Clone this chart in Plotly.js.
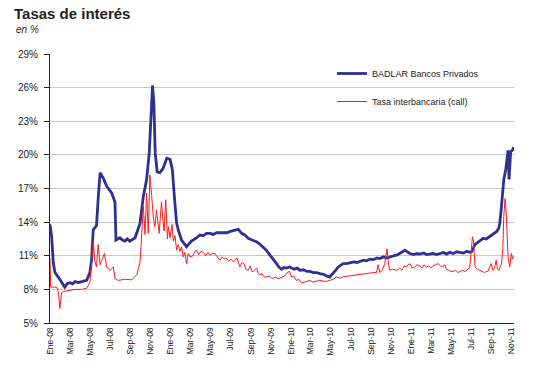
<!DOCTYPE html>
<html>
<head>
<meta charset="utf-8">
<script src="https://cdn.plot.ly/plotly-3.0.1.min.js"></script>
<style>html,body{margin:0;padding:0;background:#fff;}#chart{width:533px;height:384px;}</style>
</head>
<body>
<div id="chart"></div>
<script>
// BADLAR Bancos Privados (%)
var badlarDates = [
"2008-01-01","2008-01-03","2008-01-06","2008-01-11","2008-01-16","2008-01-26","2008-02-05","2008-02-15","2008-02-22","2008-03-02","2008-03-10","2008-03-17","2008-03-27","2008-04-06","2008-04-14","2008-04-21","2008-05-01","2008-05-06","2008-05-11","2008-05-21","2008-05-27","2008-06-01","2008-06-11","2008-06-21","2008-07-06","2008-07-16","2008-07-19","2008-07-31","2008-08-08","2008-08-15","2008-08-22","2008-08-30","2008-09-15","2008-09-30","2008-10-10","2008-10-20","2008-10-28","2008-11-04","2008-11-07","2008-11-11","2008-11-15","2008-11-21","2008-11-29","2008-12-09","2008-12-20","2008-12-30",
"2009-01-06","2009-01-12","2009-01-19","2009-01-24","2009-02-03","2009-02-18","2009-03-05","2009-03-20","2009-03-31","2009-04-10","2009-04-20","2009-04-30","2009-05-10","2009-05-20","2009-05-30","2009-06-10","2009-06-20","2009-06-29","2009-07-10","2009-07-18","2009-07-25","2009-08-04","2009-08-14","2009-08-24","2009-09-05","2009-09-18","2009-09-28","2009-10-08","2009-10-18","2009-10-29","2009-11-08","2009-11-18","2009-11-25","2009-12-03","2009-12-10","2009-12-18","2009-12-28",
"2010-01-10","2010-01-20","2010-01-28","2010-02-08","2010-02-18","2010-02-27","2010-03-10","2010-03-20","2010-03-29","2010-04-10","2010-04-18","2010-04-28","2010-05-08","2010-05-16","2010-05-24","2010-06-01","2010-06-08","2010-06-18","2010-06-28","2010-07-10","2010-07-20","2010-07-28","2010-08-08","2010-08-18","2010-08-28","2010-09-08","2010-09-18","2010-09-27","2010-10-08","2010-10-18","2010-10-27","2010-11-08","2010-11-17","2010-11-28","2010-12-05","2010-12-12","2010-12-20","2010-12-27",
"2011-01-08","2011-01-18","2011-01-26","2011-02-08","2011-02-16","2011-02-26","2011-03-08","2011-03-18","2011-03-28","2011-04-08","2011-04-18","2011-04-27","2011-05-08","2011-05-18","2011-05-27","2011-06-08","2011-06-18","2011-06-26","2011-07-02","2011-07-07","2011-07-12","2011-07-22","2011-07-30","2011-08-06","2011-08-16","2011-08-26","2011-09-06","2011-09-16","2011-09-22","2011-09-26","2011-10-01","2011-10-08","2011-10-14","2011-10-18","2011-10-21","2011-10-24","2011-10-29","2011-11-03","2011-11-07"];
var badlar = [
13.8,13.4,12.7,10.4,9.5,9.1,8.6,8.2,8.5,8.6,8.5,8.7,8.6,8.7,8.8,8.8,9.5,10.6,13.3,13.7,16.5,18.4,17.9,17.2,16.6,15.8,12.4,12.6,12.4,12.3,12.5,12.3,12.6,13.9,16.3,17.8,20.2,24.6,26.2,24.6,20.2,18.5,18.4,18.8,19.7,19.6,
18.7,16.3,13.9,13.3,12.4,11.8,12.3,12.6,12.85,12.8,13.0,13.0,12.9,13.05,13.05,13.1,13.05,13.15,13.2,13.3,13.35,13.0,12.85,12.55,12.4,12.25,12.05,11.8,11.5,11.05,10.7,10.3,10.0,9.8,9.95,9.9,10.0,
9.8,9.9,9.7,9.75,9.6,9.6,9.5,9.5,9.4,9.35,9.2,9.1,9.4,9.7,10.0,10.2,10.3,10.3,10.4,10.45,10.4,10.5,10.6,10.55,10.7,10.65,10.8,10.75,10.9,10.8,10.9,11.0,11.05,11.2,11.35,11.5,11.3,11.2,
11.1,11.2,11.15,11.25,11.1,11.15,11.2,11.1,11.2,11.3,11.15,11.3,11.2,11.35,11.3,11.25,11.4,11.3,11.35,11.6,12.0,12.2,12.4,12.55,12.5,12.7,12.9,13.15,13.4,13.9,15.4,17.8,18.7,19.8,20.4,17.8,20.3,20.4,20.7];

// Tasa interbancaria (call) (%)
var callDates = [
"2008-01-01","2008-01-03","2008-01-21","2008-01-26","2008-01-31","2008-02-05","2008-02-10","2008-02-25","2008-03-17","2008-04-06","2008-04-21","2008-05-01","2008-05-06","2008-05-11","2008-05-16","2008-05-21","2008-05-26","2008-06-01","2008-06-06","2008-06-14","2008-06-21","2008-07-01","2008-07-11","2008-07-16","2008-07-26","2008-08-15","2008-09-05","2008-09-20","2008-09-30","2008-10-05","2008-10-10","2008-10-15","2008-10-20","2008-10-25","2008-10-30","2008-11-04","2008-11-09","2008-11-14","2008-11-19","2008-11-27","2008-12-04","2008-12-09","2008-12-12","2008-12-17","2008-12-22","2008-12-25","2008-12-30",
"2009-01-05","2009-01-09","2009-01-14","2009-01-19","2009-01-24","2009-01-29","2009-02-03","2009-02-08","2009-02-13","2009-02-18","2009-02-23","2009-02-28","2009-03-10","2009-03-15","2009-03-20","2009-03-27","2009-04-03","2009-04-10","2009-04-17","2009-04-24","2009-04-30","2009-05-07","2009-05-15","2009-05-22","2009-05-30","2009-06-06","2009-06-12","2009-06-19","2009-06-26","2009-07-03","2009-07-10","2009-07-16","2009-07-21","2009-07-26","2009-07-30","2009-08-05","2009-08-11","2009-08-17","2009-08-24","2009-08-30","2009-09-04","2009-09-08","2009-09-14","2009-09-19","2009-09-24","2009-09-28","2009-10-05","2009-10-12","2009-10-19","2009-10-26","2009-11-02","2009-11-08","2009-11-16","2009-11-22","2009-11-28","2009-12-06","2009-12-13","2009-12-20","2009-12-28",
"2010-01-02","2010-01-09","2010-01-17","2010-01-25","2010-02-01","2010-02-07","2010-02-15","2010-02-22","2010-02-27","2010-03-08","2010-03-19","2010-03-28","2010-04-07","2010-04-16","2010-04-28","2010-05-08","2010-05-19","2010-05-30","2010-06-10","2010-06-18","2010-06-28","2010-07-08","2010-07-18","2010-07-28","2010-08-08","2010-08-18","2010-08-28","2010-09-08","2010-09-17","2010-09-22","2010-09-27","2010-10-05","2010-10-12","2010-10-19","2010-10-24","2010-10-27","2010-11-05","2010-11-17","2010-11-26","2010-12-03","2010-12-10","2010-12-17","2010-12-22","2010-12-27",
"2011-01-04","2011-01-11","2011-01-18","2011-01-26","2011-02-03","2011-02-08","2011-02-15","2011-02-22","2011-03-01","2011-03-07","2011-03-15","2011-03-23","2011-03-30","2011-04-06","2011-04-12","2011-04-17","2011-04-25","2011-05-01","2011-05-07","2011-05-15","2011-05-22","2011-05-27","2011-06-05","2011-06-12","2011-06-17","2011-06-22","2011-06-27","2011-07-05","2011-07-08","2011-07-13","2011-07-20","2011-07-27","2011-08-04","2011-08-11","2011-08-16","2011-08-21","2011-08-26","2011-08-31","2011-09-05","2011-09-10","2011-09-15","2011-09-19","2011-09-23","2011-09-27","2011-10-01","2011-10-05","2011-10-08","2011-10-12","2011-10-16","2011-10-21","2011-10-26","2011-10-31","2011-11-03","2011-11-05","2011-11-07"];
var call = [
10.8,8.2,8.2,7.8,6.3,7.7,7.8,7.9,8.0,8.0,8.1,8.6,10.4,12.3,10.5,10.0,12.0,10.2,10.6,11.2,10.0,9.7,10.0,9.0,8.8,8.9,8.85,9.3,10.4,12.7,15.4,12.9,16.6,13.0,18.2,16.5,14.5,13.6,15.1,13.0,15.8,14.0,13.2,16.0,12.5,13.6,12.6,
13.8,12.3,12.8,11.5,12.0,11.4,11.8,10.9,11.3,10.3,11.2,10.9,11.0,11.4,11.5,11.1,11.4,11.3,11.0,11.3,11.05,11.2,11.2,10.9,10.6,10.9,10.7,10.8,10.5,10.7,10.45,10.6,10.8,10.3,10.0,10.4,10.3,9.8,9.7,10.1,9.6,9.6,9.8,9.9,9.4,9.3,9.4,9.1,9.1,9.2,9.0,9.0,9.1,8.95,9.0,9.1,9.2,9.5,9.6,
9.1,9.2,8.8,8.9,8.6,8.6,8.7,8.8,8.8,8.65,8.7,8.8,8.75,8.7,8.8,8.9,9.1,9.0,9.15,9.15,9.2,9.25,9.3,9.3,9.4,9.4,9.45,9.5,9.5,10.2,9.5,9.7,10.3,11.6,10.2,9.7,9.8,9.7,9.9,9.7,10.1,10.0,10.2,10.3,
9.9,10.0,10.2,10.1,9.9,10.2,10.0,10.1,9.9,10.1,10.2,10.3,10.1,10.0,10.2,9.8,9.7,9.6,9.6,9.7,9.5,9.6,9.7,9.6,9.7,9.8,10.0,12.7,12.3,10.0,9.8,9.7,9.6,9.5,9.6,9.6,10.0,10.3,9.7,9.9,10.6,9.8,9.7,10.0,10.3,11.5,14.5,16.1,14.5,10.9,10.0,11.2,10.7,10.9,11.0];

var tickDates = ["2008-01-01","2008-03-01","2008-05-01","2008-07-01","2008-09-01","2008-11-01","2009-01-01","2009-03-01","2009-05-01","2009-07-01","2009-09-01","2009-11-01","2010-01-01","2010-03-01","2010-05-01","2010-07-01","2010-09-01","2010-11-01","2011-01-01","2011-03-01","2011-05-01","2011-07-01","2011-09-01","2011-11-01"];
var tickLabels = ["Ene-08","Mar-08","May-08","Jul-08","Sep-08","Nov-08","Ene-09","Mar-09","May-09","Jul-09","Sep-09","Nov-09","Ene-10","Mar-10","May-10","Jul-10","Sep-10","Nov-10","Ene-11","Mar-11","May-11","Jul-11","Sep-11","Nov-11"];
var yTicks = [5,8,11,14,17,20,23,26,29];
var yLabels = ["5%","8%","11%","14%","17%","20%","23%","26%","29%"];

var traces = [
  {x: badlarDates, y: badlar, type: 'scatter', mode: 'lines', name: 'BADLAR Bancos Privados',
   legendgroup: 'a', line: {color: '#2e3192', width: 2.8}},
  {x: callDates, y: call, type: 'scatter', mode: 'lines', name: 'Tasa interbancaria (call)',
   legendgroup: 'b', line: {color: '#ff1a1a', width: 1}}
];

var layout = {
  width: 533, height: 384,
  margin: {l: 50, r: 19, t: 54, b: 61},
  paper_bgcolor: '#ffffff', plot_bgcolor: '#ffffff',
  font: {family: 'Liberation Sans, Arial, sans-serif', color: '#222'},
  title: {text: '<b>Tasas de interés</b>', x: 14/533, xanchor: 'left', xref: 'container',
          y: 1 - 14/384, yanchor: 'middle', yref: 'container',
          font: {size: 15, color: '#222', family: 'Liberation Sans, Arial, sans-serif'}},
  annotations: [{text: '<i>en %</i>', xref: 'paper', yref: 'paper', x: (14-50)/464, y: (323-30)/269,
                 xanchor: 'left', yanchor: 'middle', showarrow: false,
                 font: {size: 10, color: '#222'}}],
  showlegend: true,
  legend: {x: (332-50)/464, y: (323-59)/269, xanchor: 'left', yanchor: 'top',
           bgcolor: 'rgba(0,0,0,0)', font: {size: 9, color: '#222'}, tracegroupgap: 9},
  xaxis: {type: 'date', range: ['2008-01-01', '2011-11-08'], tickmode: 'array',
          tickvals: tickDates, ticktext: tickLabels, tickangle: -90,
          tickfont: {size: 8.5, color: '#222'}, showgrid: false, zeroline: false,
          showline: true, linecolor: '#222', linewidth: 1, ticks: ''},
  yaxis: {range: [5, 29], tickmode: 'array', tickvals: yTicks, ticktext: yLabels,
          tickfont: {size: 10, color: '#222'}, showgrid: true, gridcolor: '#c6c6c6', gridwidth: 1,
          zeroline: false, showline: true, linecolor: '#222', linewidth: 1,
          ticks: 'outside', ticklen: 5, tickcolor: '#222', ticklabelstandoff: 4}
};

Plotly.newPlot('chart', traces, layout, {displayModeBar: false, staticPlot: true});
</script>
</body>
</html>
